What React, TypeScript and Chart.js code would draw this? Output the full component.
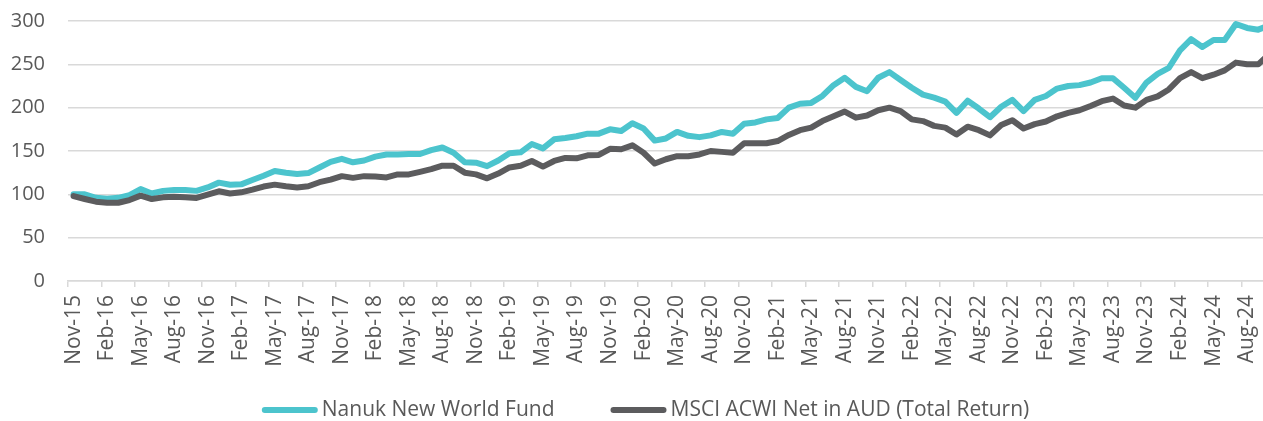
import React, { useEffect, useRef } from 'react';
import { Chart, registerables } from 'chart.js';

Chart.register(...registerables);

const categories: string[] = [
  'Nov-15', 'Dec-15',
  'Jan-16', 'Feb-16', 'Mar-16', 'Apr-16', 'May-16', 'Jun-16', 'Jul-16', 'Aug-16', 'Sep-16', 'Oct-16', 'Nov-16', 'Dec-16',
  'Jan-17', 'Feb-17', 'Mar-17', 'Apr-17', 'May-17', 'Jun-17', 'Jul-17', 'Aug-17', 'Sep-17', 'Oct-17', 'Nov-17', 'Dec-17',
  'Jan-18', 'Feb-18', 'Mar-18', 'Apr-18', 'May-18', 'Jun-18', 'Jul-18', 'Aug-18', 'Sep-18', 'Oct-18', 'Nov-18', 'Dec-18',
  'Jan-19', 'Feb-19', 'Mar-19', 'Apr-19', 'May-19', 'Jun-19', 'Jul-19', 'Aug-19', 'Sep-19', 'Oct-19', 'Nov-19', 'Dec-19',
  'Jan-20', 'Feb-20', 'Mar-20', 'Apr-20', 'May-20', 'Jun-20', 'Jul-20', 'Aug-20', 'Sep-20', 'Oct-20', 'Nov-20', 'Dec-20',
  'Jan-21', 'Feb-21', 'Mar-21', 'Apr-21', 'May-21', 'Jun-21', 'Jul-21', 'Aug-21', 'Sep-21', 'Oct-21', 'Nov-21', 'Dec-21',
  'Jan-22', 'Feb-22', 'Mar-22', 'Apr-22', 'May-22', 'Jun-22', 'Jul-22', 'Aug-22', 'Sep-22', 'Oct-22', 'Nov-22', 'Dec-22',
  'Jan-23', 'Feb-23', 'Mar-23', 'Apr-23', 'May-23', 'Jun-23', 'Jul-23', 'Aug-23', 'Sep-23', 'Oct-23', 'Nov-23', 'Dec-23',
  'Jan-24', 'Feb-24', 'Mar-24', 'Apr-24', 'May-24', 'Jun-24', 'Jul-24', 'Aug-24', 'Sep-24', 'Oct-24',
];

const fundValues: number[] = [
  100, 100, 96, 95, 96, 99, 106, 101, 104, 105, 105, 104,
  108, 113.5, 111, 111.5, 116.5, 121.5, 127, 125, 123.5, 124.5, 131, 137.5,
  141, 137, 139, 143.5, 146, 146, 146.5, 146.5, 151, 154, 148, 137,
  136.5, 132.5, 139, 147.5, 148.5, 158, 153, 163.5, 165, 167, 170, 170,
  175, 173, 182, 176, 162, 164.5, 172, 167.5, 166, 168, 172, 170,
  181.5, 183, 186.5, 188, 200, 204.5, 205.5, 213.5, 226, 234.5, 224, 219,
  234.5, 241, 232, 223, 215, 211.5, 207, 194, 208, 199, 189, 201,
  209, 196, 209, 213.5, 222, 225, 226, 229, 234, 234, 223, 211.5,
  229, 239, 246, 266, 279, 270, 278, 278, 296.5, 292, 290, 295,
];

const indexValues: number[] = [
  98, 94.6, 91.5, 90.3, 90.3, 93.4, 98.5, 94.6, 96.5, 97.3, 96.5, 95.8,
  99.6, 103.5, 101, 102.3, 105.4, 109, 111.2, 109.3, 108, 109.3, 114, 117,
  121, 119, 121, 120.5, 119.5, 123, 123, 126, 129, 133, 133, 125,
  123, 118.5, 124, 131, 133, 138.5, 132, 138.5, 142, 141.5, 145, 145.5,
  152.5, 152, 156.5, 148, 135.5, 140.5, 144, 144, 146, 150, 149, 148,
  159, 159, 159, 161.5, 168.5, 174, 177, 184.5, 190, 195.5, 188.5, 191,
  197, 200, 196, 186.5, 184.5, 179, 177, 169, 178, 174, 168, 180,
  185.5, 176, 181, 184, 190, 194, 197, 202, 207.5, 210.5, 202.5, 200,
  209, 213, 221, 234, 241, 234, 238, 243, 252, 250, 250, 262,
];

const seriesNames: string[] = ['Nanuk New World Fund', 'MSCI ACWI Net in AUD (Total Return)'];
const yTicks: number[] = [0, 50, 100, 150, 200, 250, 300];
const labelEvery = 3;

const CYAN = '#4cc4cd';
const GRAY = '#5c5c5e';
const GRID = '#d9d9d9';
const TEXT = '#595959';
const FONT = 'Open Sans';

const legendPlugin = {
  id: 'bottomLegend',
  afterDraw(chart: any) {
    const ctx = chart.ctx as CanvasRenderingContext2D;
    ctx.save();
    ctx.font = `21px "${FONT}"`;
    const lineLen = 56;
    const gap = 4;
    const itemGap = 56;
    const items = chart.data.datasets.map((d: any) => ({ text: d.label as string, color: d.borderColor as string }));
    const widths = items.map((it: any) => lineLen + gap + ctx.measureText(it.text).width);
    const total = widths.reduce((a: number, b: number) => a + b, 0) + itemGap * (items.length - 1);
    const centerX = 645.5;
    const y = 410;
    let x = centerX - total / 2;
    items.forEach((it: any, i: number) => {
      ctx.strokeStyle = it.color;
      ctx.lineWidth = 6;
      ctx.lineCap = 'round';
      ctx.beginPath();
      ctx.moveTo(x + 3, y);
      ctx.lineTo(x + lineLen - 3, y);
      ctx.stroke();
      ctx.fillStyle = TEXT;
      ctx.textBaseline = 'middle';
      ctx.textAlign = 'left';
      ctx.fillText(it.text, x + lineLen + gap, y);
      x += widths[i] + itemGap;
    });
    ctx.restore();
  },
};

const zeroPadding = (s: any) => {
  s.paddingTop = 0;
  s.paddingBottom = 0;
  s.paddingLeft = 0;
  s.paddingRight = 0;
};

export default function App() {
  const canvasRef = useRef<HTMLCanvasElement>(null);

  useEffect(() => {
    const canvas = canvasRef.current;
    if (!canvas) return;
    const chart = new Chart(canvas, {
      type: 'line',
      data: {
        labels: categories,
        datasets: [
          {
            label: seriesNames[0],
            data: fundValues,
            borderColor: CYAN,
            backgroundColor: CYAN,
            borderWidth: 6,
            pointRadius: 0,
            tension: 0,
            borderJoinStyle: 'round',
            borderCapStyle: 'round',
            order: 1,
          },
          {
            label: seriesNames[1],
            data: indexValues,
            borderColor: GRAY,
            backgroundColor: GRAY,
            borderWidth: 6,
            pointRadius: 0,
            tension: 0,
            borderJoinStyle: 'round',
            borderCapStyle: 'round',
            order: 0,
          },
        ],
      },
      options: {
        responsive: false,
        animation: false,
        events: [],
        layout: { padding: { top: 21, right: 0, bottom: 22, left: 0 } },
        plugins: {
          legend: { display: false },
          tooltip: { enabled: false },
        },
        scales: {
          x: {
            offset: true,
            grid: {
              offset: true,
              drawOnChartArea: false,
              drawTicks: true,
              tickLength: 6,
              lineWidth: 1.5,
              tickColor: (c: any) => (c.index % labelEvery === 0 ? GRID : 'rgba(0,0,0,0)'),
            },
            border: { color: GRID, width: 1.5 },
            ticks: {
              autoSkip: false,
              maxRotation: 90,
              minRotation: 90,
              padding: 8,
              color: TEXT,
              font: { family: FONT, size: 21 },
              callback: (_v: any, i: number) => (i % labelEvery === 0 ? categories[i] : ''),
            },
            afterFit: (s: any) => {
              s.height = 118;
              zeroPadding(s);
            },
          },
          y: {
            min: yTicks[0],
            max: yTicks[yTicks.length - 1],
            ticks: {
              stepSize: 50,
              padding: 23,
              color: TEXT,
              font: { family: FONT, size: 20 },
            },
            grid: { color: GRID, lineWidth: 1.5, drawTicks: false },
            border: { display: false },
            afterFit: (s: any) => {
              s.width = 68;
              zeroPadding(s);
            },
          },
        },
      },
      plugins: [legendPlugin],
    });
    return () => chart.destroy();
  }, []);

  return (
    <div
      style={{
        position: 'fixed',
        left: 0,
        top: 0,
        width: 1263,
        height: 421,
        overflow: 'hidden',
        background: '#ffffff',
      }}
    >
      <canvas ref={canvasRef} width={1275} height={421} style={{ display: 'block' }} />
    </div>
  );
}
